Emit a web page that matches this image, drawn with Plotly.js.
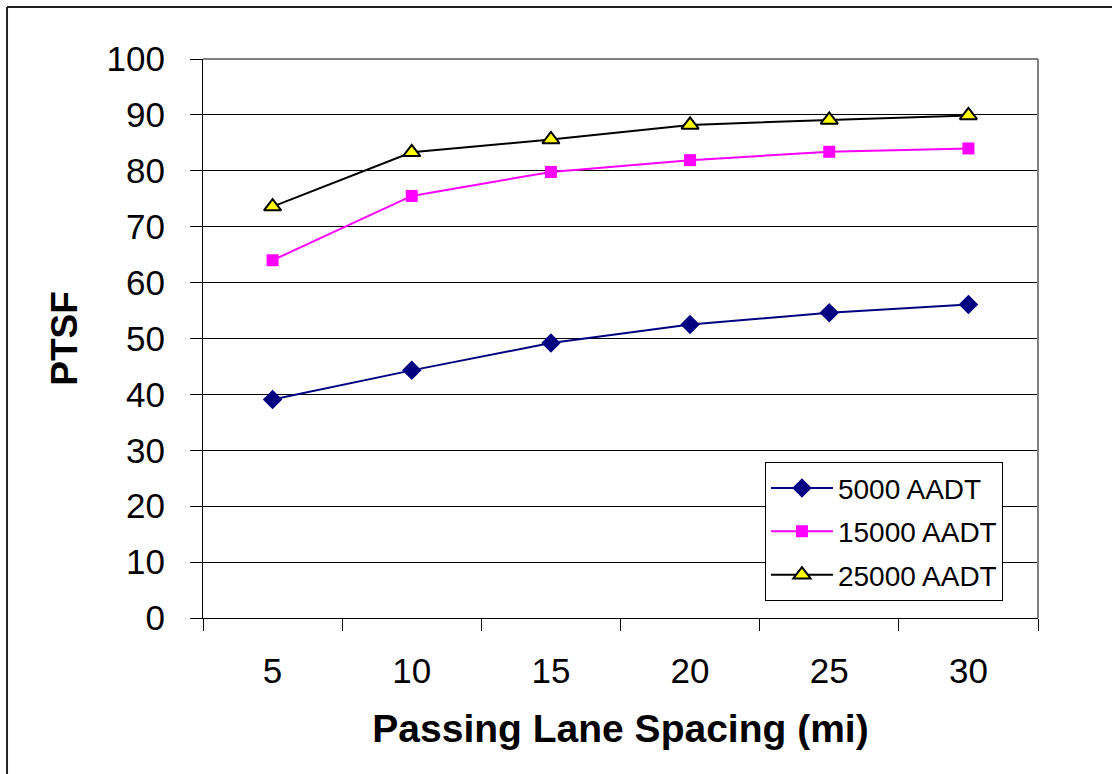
<!DOCTYPE html>
<html>
<head>
<meta charset="utf-8">
<script src="https://cdn.plot.ly/plotly-3.0.1.min.js"></script>
<style>
  html, body { margin: 0; padding: 0; background: #fff; }
  #chart { width: 1112px; height: 774px; }
</style>
</head>
<body>
<div id="chart"></div>
<script>
const categories = ["5", "10", "15", "20", "25", "30"];
const seriesNames = ["5000 AADT", "15000 AADT", "25000 AADT"];
const aadt5000 = [39.1, 44.3, 49.2, 52.5, 54.6, 56.1];
const aadt15000 = [64.0, 75.5, 79.8, 81.9, 83.4, 84.0];
const aadt25000 = [73.6, 83.3, 85.6, 88.2, 89.1, 89.9];
const yTicks = [0, 10, 20, 30, 40, 50, 60, 70, 80, 90, 100];

const FONT = "Liberation Sans, Arial, sans-serif";

const traces = [
  {
    x: categories, y: aadt5000, name: seriesNames[0], type: "scatter", mode: "lines+markers",
    legendgroup: "a",
    line: { color: "#000080", width: 2 },
    marker: { symbol: "diamond", size: 15, color: "#000080" }
  },
  {
    x: categories, y: aadt15000, name: seriesNames[1], type: "scatter", mode: "lines+markers",
    legendgroup: "b",
    line: { color: "#FF00FF", width: 2 },
    marker: { symbol: "square", size: 12, color: "#FF00FF" }
  },
  {
    x: categories, y: aadt25000, name: seriesNames[2], type: "scatter", mode: "lines+markers",
    legendgroup: "c",
    line: { color: "#000000", width: 2 },
    marker: { symbol: "triangle-up", size: 15, color: "#FFFF00", line: { color: "#000000", width: 2 } }
  }
];

const layout = {
  width: 1112, height: 774,
  margin: { l: 203, r: 74, t: 59, b: 156 },
  paper_bgcolor: "#ffffff", plot_bgcolor: "#ffffff",
  font: { family: FONT, color: "#000" },
  showlegend: true,
  legend: {
    x: 0.673, y: 0.2786, xanchor: "left", yanchor: "top",
    bgcolor: "#ffffff", bordercolor: "#000000", borderwidth: 1,
    font: { family: FONT, size: 28, color: "#000" },
    itemwidth: 62,
    traceorder: "grouped",
    tracegroupgap: 4
  },
  xaxis: {
    type: "category", range: [-0.5, 5.5],
    showgrid: false, zeroline: false,
    showline: true, linecolor: "#000", linewidth: 1,
    ticks: "outside", tickson: "boundaries", ticklen: 12, tickcolor: "#000", tickwidth: 1,
    tickfont: { family: FONT, size: 35, color: "#000" },
    ticklabelstandoff: 22,
    title: { text: "Passing Lane Spacing (mi)", font: { family: FONT, size: 39, color: "#000", weight: "bold" }, standoff: 25 }
  },
  yaxis: {
    range: [0, 100], tickvals: yTicks, ticktext: yTicks.map(String),
    showgrid: true, gridcolor: "#000", gridwidth: 1, zeroline: false,
    showline: true, linecolor: "#000", linewidth: 1,
    ticks: "outside", ticklen: 12, tickcolor: "#000", tickwidth: 1,
    tickfont: { family: FONT, size: 35, color: "#000" },
    ticklabelstandoff: 18,
    title: { text: "PTSF", font: { family: FONT, size: 37, color: "#000", weight: "bold" }, standoff: 17 }
  },
  shapes: [
    { type: "line", xref: "paper", yref: "paper", x0: 0, x1: 1, y0: 1, y1: 1, line: { color: "#808080", width: 2 }, layer: "above" },
    { type: "line", xref: "paper", yref: "paper", x0: 1, x1: 1, y0: 0, y1: 1, line: { color: "#808080", width: 2 }, layer: "above" },
    { type: "line", xref: "paper", yref: "paper", x0: -0.2347, x1: -0.2347, y0: -0.3, y1: 1.0929, line: { color: "#222", width: 2 }, layer: "above" },
    { type: "line", xref: "paper", yref: "paper", x0: -0.2347, x1: 1.1, y0: 1.0929, y1: 1.0929, line: { color: "#222", width: 2 }, layer: "above" }
  ]
};

Plotly.newPlot("chart", traces, layout, { displayModeBar: false, staticPlot: true });
</script>
</body>
</html>
